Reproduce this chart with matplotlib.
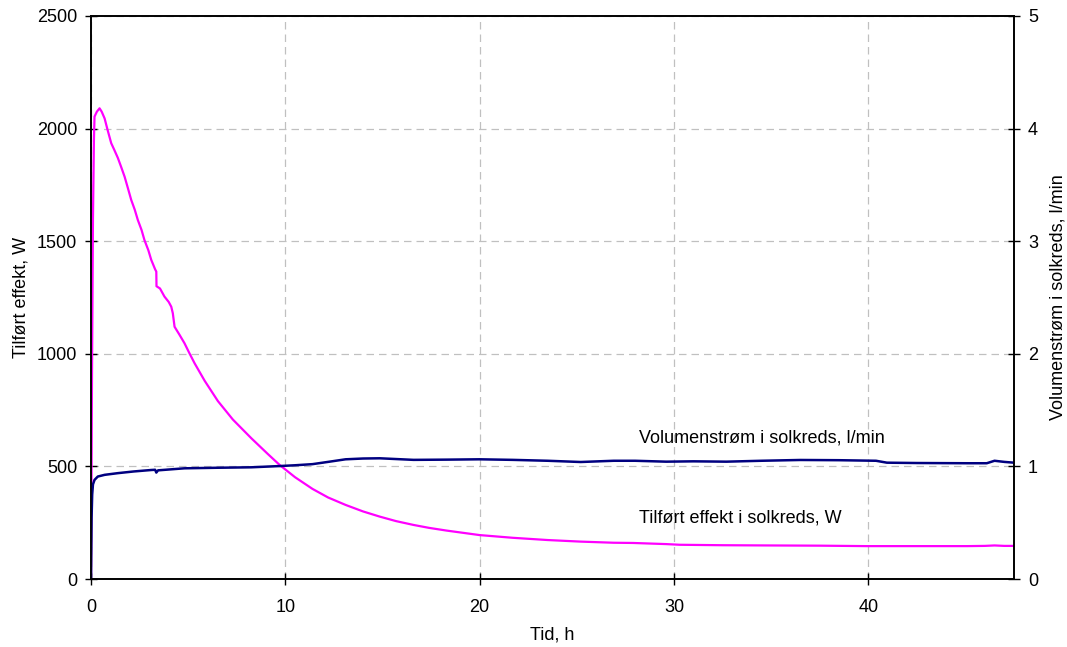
import matplotlib
matplotlib.use("Agg")
import matplotlib.pyplot as plt

plt.rcParams['font.family'] = ['Liberation Sans', 'DejaVu Sans']

# Time (h) and supplied power (W)
t_power = [0.0, 0.05, 0.1, 0.15, 0.18, 0.3, 0.44, 0.55, 0.7, 0.85, 1.04, 1.2, 1.38, 1.55, 1.73,
           1.9, 2.07, 2.25, 2.41, 2.6, 2.75, 2.95, 3.1, 3.3, 3.36, 3.37, 3.55, 3.78, 4.0, 4.13,
           4.21, 4.3, 4.55, 4.81, 5.05, 5.33, 5.85, 6.53, 7.3, 8.25, 9.1, 9.7, 10.5, 11.4,
           12.2, 13.1, 14.0, 14.86, 15.7, 16.6, 17.4, 18.3, 20.0, 21.7, 23.5, 25.2, 26.9, 27.9,
           29.6, 30.3, 32.5, 34.8, 37.5, 39.9, 42.5, 45.1, 46.0, 46.5, 47.0, 47.5]
power = [0, 900, 1600, 1950, 2053, 2075, 2090, 2075, 2045, 1995, 1935, 1905, 1870, 1830, 1786,
         1735, 1683, 1640, 1594, 1550, 1505, 1460, 1417, 1375, 1365, 1300, 1290, 1254, 1230, 1209,
         1180, 1120, 1085, 1047, 1005, 958, 880, 790, 708, 625, 555, 507, 452, 400,
         362, 329, 300, 277, 257, 240, 227, 215, 195, 183, 173, 166, 161, 160,
         155, 152, 150, 149, 148, 146, 146, 146, 147, 149, 147, 147]

# Time (h) and flow in solar loop (l/min)
t_flow = [0.0, 0.03, 0.06, 0.1, 0.18, 0.35, 0.7, 1.38, 2.2, 3.1, 3.3, 3.36, 3.45, 4.81, 6.53,
          8.25, 9.7, 10.5, 11.4, 12.2, 13.1, 14.0, 14.86, 16.6, 18.3, 20.0, 21.7, 23.5, 25.2,
          26.9, 28.0, 29.6, 31.0, 32.7, 34.5, 36.5, 38.5, 40.4, 40.96, 42.5, 45.1, 46.1, 46.5,
          47.0, 47.5]
flow = [0.0, 0.55, 0.75, 0.84, 0.88, 0.91, 0.925, 0.94, 0.955, 0.968, 0.97, 0.945, 0.965, 0.983, 0.988,
        0.992, 1.003, 1.01, 1.02, 1.04, 1.063, 1.07, 1.072, 1.058, 1.06, 1.063, 1.058, 1.05, 1.039,
        1.05, 1.05, 1.042, 1.045, 1.042, 1.05, 1.057, 1.055, 1.05, 1.033, 1.03, 1.028, 1.028, 1.05,
        1.04, 1.033]

fig = plt.figure(figsize=(10.67, 6.47), dpi=100)
ax = fig.add_axes([0.0853, 0.1051, 0.8650, 0.8702])
ax2 = ax.twinx()

ax.plot(t_power, power, color='#FF00FF', lw=1.6)
ax2.plot(t_flow, flow, color='#000080', lw=1.8)

ax.set_xlim(0, 47.5)
ax.set_ylim(0, 2500)
ax2.set_ylim(0, 5)
ax.set_xticks([0, 10, 20, 30, 40])
ax.set_yticks([0, 500, 1000, 1500, 2000, 2500])
ax2.set_yticks([0, 1, 2, 3, 4, 5])

ax.grid(True, color='#c0c0c0', linestyle=(0, (6, 4)), lw=0.9)
ax.set_axisbelow(True)

fs = 13
for a in (ax, ax2):
    a.tick_params(direction='inout', length=8, width=1, labelsize=fs, pad=6)
    for s in a.spines.values():
        s.set_linewidth(1.2)
ax.tick_params(axis='x', pad=10.5)

ax.set_xlabel('Tid, h', fontsize=fs, labelpad=7.5)
ax.set_ylabel('Tilført effekt, W', fontsize=fs, labelpad=5)
ax2.set_ylabel('Volumenstrøm i solkreds, l/min', fontsize=fs, labelpad=8)

ax.text(28.2, 628, 'Volumenstrøm i solkreds, l/min', fontsize=fs, va='center', ha='left')
ax.text(28.2, 273, 'Tilført effekt i solkreds, W', fontsize=fs, va='center', ha='left')

fig.savefig('out.png', dpi=100)
